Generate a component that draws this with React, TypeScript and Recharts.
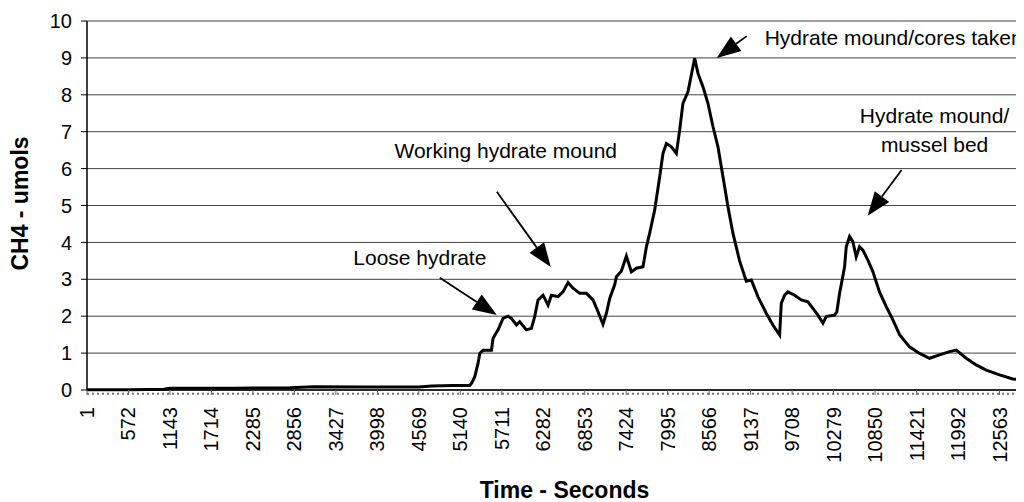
import React from "react";
import {
  CartesianGrid,
  Line,
  LineChart,
  ReferenceDot,
  ReferenceLine,
  XAxis,
  YAxis,
} from "recharts";

// time (s) and CH4 (umols)
const seconds = [
  1, 600, 1060, 1143, 2000, 2793, 3124, 3900, 4569, 4750, 5050, 5270, 5300,
  5339, 5384, 5408, 5453, 5569, 5591, 5660, 5728, 5797, 5844, 5913, 5958, 6050,
  6119, 6164, 6210, 6279, 6348, 6394, 6485, 6554, 6623, 6692, 6784, 6876, 6967,
  7036, 7104, 7151, 7197, 7265, 7289, 7357, 7426, 7495, 7564, 7655, 7702, 7747,
  7816, 7885, 7930, 7977, 8046, 8114, 8160, 8205, 8274, 8343, 8366, 8412, 8480,
  8549, 8618, 8687, 8756, 8824, 8893, 8985, 9077, 9146, 9237, 9352, 9443, 9536,
  9559, 9604, 9650, 9742, 9834, 9925, 9994, 10063, 10132, 10178, 10293, 10324,
  10361, 10384, 10430, 10453, 10499, 10544, 10590, 10636, 10682, 10751, 10819,
  10912, 11004, 11095, 11187, 11324, 11462, 11600, 11737, 11875, 11967, 12104,
  12242, 12380, 12563, 12746, 12884,
];
const ch4 = [
  0.01, 0.01, 0.02, 0.05, 0.05, 0.06, 0.09, 0.08, 0.08, 0.11, 0.12, 0.12, 0.2,
  0.36, 0.72, 0.99, 1.08, 1.08, 1.4, 1.63, 1.94, 2.0, 1.94, 1.76, 1.85, 1.63,
  1.67, 1.99, 2.44, 2.57, 2.3, 2.57, 2.53, 2.66, 2.91, 2.76, 2.62, 2.62, 2.44,
  2.12, 1.78, 2.08, 2.48, 2.85, 3.07, 3.22, 3.63, 3.2, 3.3, 3.34, 3.88, 4.25,
  4.88, 5.78, 6.41, 6.68, 6.59, 6.41, 7.05, 7.77, 8.08, 8.76, 8.99, 8.58, 8.22,
  7.77, 7.14, 6.59, 5.78, 4.97, 4.25, 3.5, 2.95, 2.98, 2.53, 2.08, 1.76, 1.49,
  2.35, 2.57, 2.66, 2.57, 2.44, 2.39, 2.21, 2.03, 1.81, 1.99, 2.03, 2.12, 2.62,
  2.85, 3.34, 3.88, 4.16, 4.02, 3.61, 3.88, 3.79, 3.52, 3.21, 2.65, 2.26, 1.9,
  1.5, 1.17, 0.99, 0.86, 0.95, 1.04, 1.08, 0.86, 0.68, 0.54, 0.41, 0.3, 0.27,
];

const xTicks = [
  1, 572, 1143, 1714, 2285, 2856, 3427, 3998, 4569, 5140, 5711, 6282, 6853,
  7424, 7995, 8566, 9137, 9708, 10279, 10850, 11421, 11992, 12563,
];
const yTicks = [0, 1, 2, 3, 4, 5, 6, 7, 8, 9, 10];

// annotation texts, in data units
const noteTexts = [
  { text: "Loose hydrate", t: 4583, v: 3.58, anchor: "middle" },
  { text: "Working hydrate mound", t: 5766, v: 6.5, anchor: "middle" },
  { text: "Hydrate mound/cores taken", t: 9330, v: 9.55, anchor: "start" },
  { text: "Hydrate mound/", t: 11669, v: 7.43, anchor: "middle" },
  { text: "mussel bed", t: 11669, v: 6.64, anchor: "middle" },
];
// arrows: from (t1,v1) to tip (t2,v2)
const arrows = [
  { t1: 4858, v1: 3.04, t2: 5643, v2: 2.03 },
  { t1: 5643, v1: 5.37, t2: 6386, v2: 3.33 },
  { t1: 9083, v1: 9.59, t2: 8670, v2: 9.0 },
  { t1: 11215, v1: 5.96, t2: 10748, v2: 4.72 },
];

const data = seconds.map((t, i) => ({ t, v: ch4[i] }));

const FONT = '"Liberation Sans", Arial, sans-serif';

function XTick(props: any) {
  const { x, y, payload } = props;
  return (
    <g transform={`translate(${x},${y})`}>
      <text
        transform="rotate(-90)"
        textAnchor="end"
        dy="0.35em"
        fontSize={20}
        fontFamily={FONT}
        fill="#000"
      >
        {payload.value}
      </text>
    </g>
  );
}

function ArrowShape(props: any) {
  const { x1, y1, x2, y2 } = props;
  const dx = x2 - x1;
  const dy = y2 - y1;
  const len = Math.sqrt(dx * dx + dy * dy) || 1;
  const ux = dx / len;
  const uy = dy / len;
  const head = 24;
  const half = 9;
  const bx = x2 - ux * head;
  const by = y2 - uy * head;
  const pts = `${x2},${y2} ${bx - uy * half},${by + ux * half} ${bx + uy * half},${by - ux * half}`;
  return (
    <g>
      <line x1={x1} y1={y1} x2={bx} y2={by} stroke="#000" strokeWidth={1.8} />
      <polygon points={pts} fill="#000" />
    </g>
  );
}

export default function App() {
  return (
    <div style={{ width: 1016, height: 494, background: "#fff" }}>
      <LineChart
        width={1016}
        height={494}
        data={data}
        margin={{ top: 13, right: 0, bottom: 0, left: 0 }}
      >
        <CartesianGrid stroke="#444" vertical={false} />
        <XAxis
          dataKey="t"
          type="number"
          domain={[1, 12900]}
          ticks={xTicks}
          interval={0}
          height={112}
          tickSize={5}
          tickMargin={12}
          tick={<XTick />}
          axisLine={{ stroke: "#000", strokeWidth: 1.5 }}
          tickLine={{ stroke: "#666" }}
          label={(p: any) => {
            const vb = p.viewBox;
            return (
              <text
                x={vb.x + vb.width / 2 + 9}
                y={vb.y + 108}
                textAnchor="middle"
                fontSize={23}
                fontWeight="bold"
                fontFamily={FONT}
                fill="#000"
              >
                Time - Seconds
              </text>
            );
          }}
        />
        <YAxis
          domain={[0, 10]}
          ticks={yTicks}
          interval={0}
          width={79}
          tickSize={6}
          tickMargin={9}
          tick={{ fontSize: 20, fontFamily: FONT, fill: "#000" }}
          axisLine={{ stroke: "#000", strokeWidth: 1.5 }}
          tickLine={{ stroke: "#000" }}
          label={(p: any) => {
            const vb = p.viewBox;
            const cx = vb.x + 12;
            const cy = vb.y + vb.height / 2 - 2;
            return (
              <text
                x={cx}
                y={cy}
                transform={`rotate(-90, ${cx}, ${cy})`}
                textAnchor="middle"
                dy="0.35em"
                fontSize={23}
                fontWeight="bold"
                fontFamily={FONT}
                fill="#000"
              >
                CH4 - umols
              </text>
            );
          }}
        />
        <ReferenceLine
          y={-0.1}
          ifOverflow="visible"
          stroke="#777"
          strokeWidth={2}
          strokeDasharray="2 3"
        />
        <Line
          type="linear"
          dataKey="v"
          stroke="#000"
          strokeWidth={3}
          dot={false}
          isAnimationActive={false}
        />
        {arrows.map((a, i) => (
          <ReferenceLine
            key={`a${i}`}
            segment={[
              { x: a.t1, y: a.v1 },
              { x: a.t2, y: a.v2 },
            ]}
            ifOverflow="visible"
            shape={ArrowShape}
          />
        ))}
        {noteTexts.map((n, i) => (
          <ReferenceDot
            key={`n${i}`}
            x={n.t}
            y={n.v}
            ifOverflow="visible"
            shape={(p: any) => (
              <text
                x={p.cx}
                y={p.cy}
                dy="0.35em"
                textAnchor={n.anchor as any}
                fontSize={21}
                fontFamily={FONT}
                fill="#000"
              >
                {n.text}
              </text>
            )}
          />
        ))}
      </LineChart>
    </div>
  );
}
